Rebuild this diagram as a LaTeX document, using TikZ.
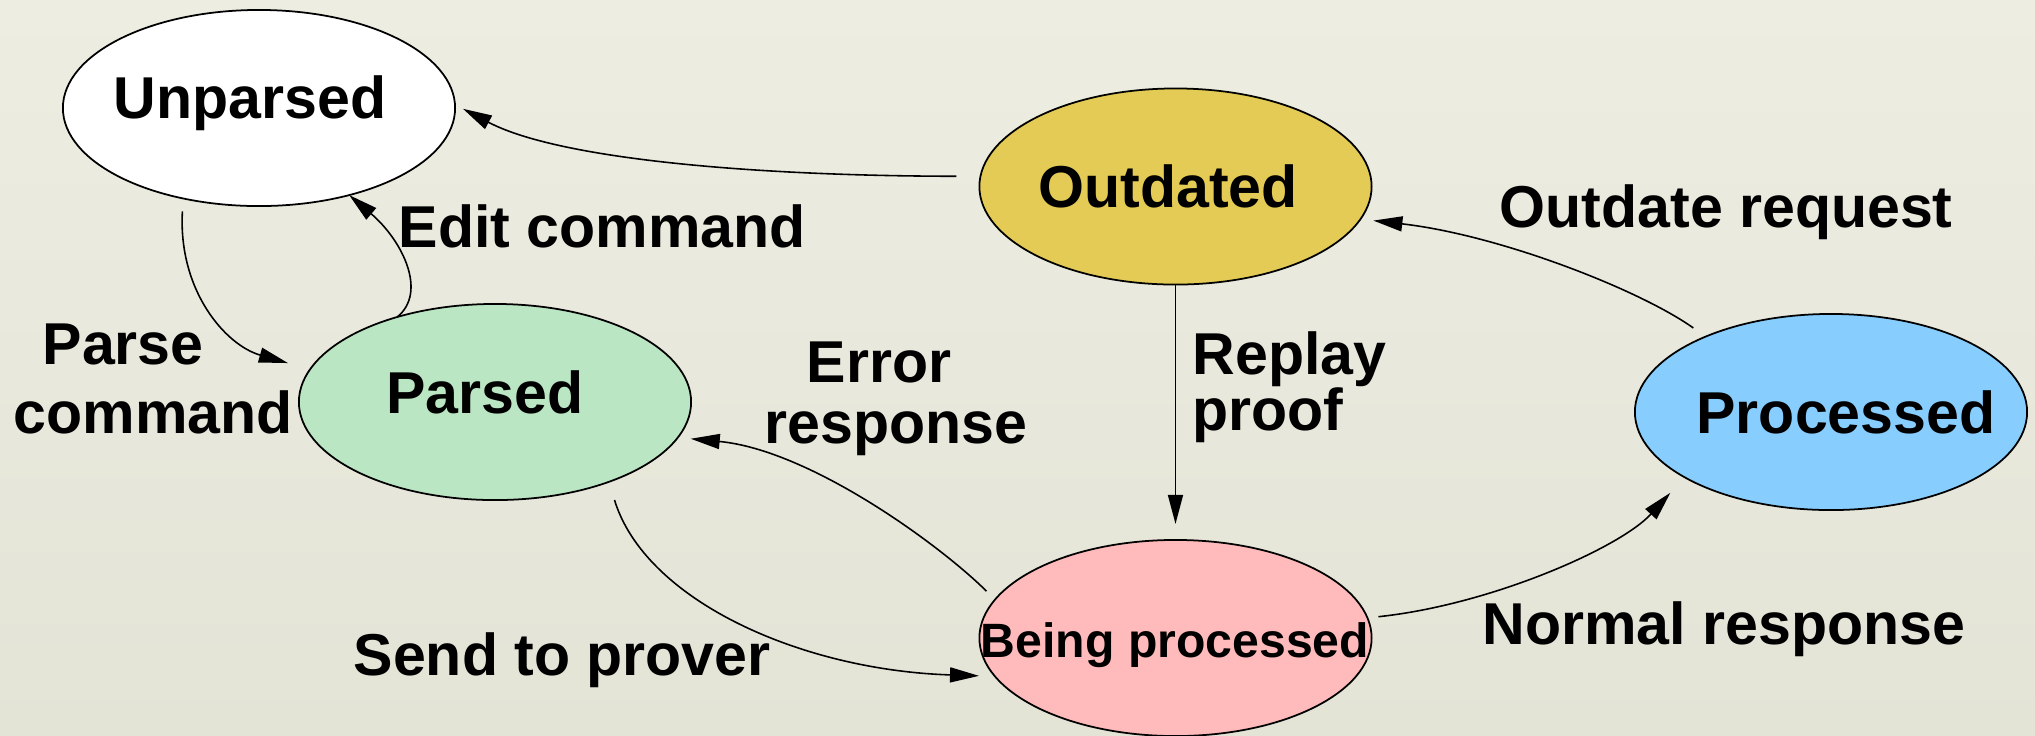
\documentclass[tikz,border=0pt]{standalone}
\usepackage{fontspec}
\setmainfont{Liberation Sans}
\usetikzlibrary{shapes.geometric,arrows.meta}
\definecolor{bgtop}{RGB}{237,237,226}
\definecolor{bgbot}{RGB}{227,227,214}
\definecolor{outdatedfill}{RGB}{227,203,85}
\definecolor{parsedfill}{RGB}{187,230,195}
\definecolor{processedfill}{RGB}{135,206,255}
\definecolor{beingfill}{RGB}{255,187,187}
\begin{document}
\begin{tikzpicture}[x=0.01cm,y=-0.01cm,
  state/.style={ellipse, draw=black, line width=0.5pt, minimum width=3.92cm,
    minimum height=1.96cm, inner sep=0pt, outer sep=0pt},
  statetext/.style={anchor=base, inner sep=0pt,
    font=\fontsize{16.8}{19.6}\selectfont\bfseries},
  edgetext/.style={anchor=base west, inner sep=0pt, align=left},
  conn/.style={draw=black, line width=0.45pt,
    -{Triangle[length=0.29cm,width=0.15cm]}},
]
\useasboundingbox (0,0) rectangle (2035,735);
\shade[top color=bgtop, bottom color=bgbot] (0,0) rectangle (2035,735);

% states
\node[state, fill=white]         (unparsed)  at (259,108)   {};
\node[state, fill=outdatedfill]  (outdated)  at (1175.5,186.5) {};
\node[state, fill=parsedfill]    (parsed)    at (495,402)   {};
\node[state, fill=processedfill] (processed) at (1831,412)  {};
\node[state, fill=beingfill]     (being)     at (1175.5,638) {};

\node[statetext] (unparsed-t)  at (250,118)  {Unparsed};
\node[statetext] (outdated-t)  at (1168,207) {Outdated};
\node[statetext] (parsed-t)    at (485,413)  {Parsed};
\node[statetext] (processed-t) at (1846,433) {Processed};
\node[statetext, font=\fontsize{13.7}{16}\selectfont\bfseries]
  (being-t) at (1175,657) {Being processed};

% transitions
\draw[conn, shorten <=0.24cm, shorten >=0.09cm]
  (outdated.177) .. controls (760,176) and (560,160) .. (unparsed.1.5);
\draw[conn, shorten <=0.13cm, shorten >=0.23cm]
  (unparsed.230) .. controls (178,290) and (225,345) .. (parsed.170.5);
\draw[conn]
  (parsed.139) .. controls (428,292) and (402,240) .. (unparsed.316);
\draw[conn, shorten >=0.16cm] (outdated.south) -- (being.north);
\draw[conn, shorten <=0.12cm, shorten >=0.13cm]
  (being.168.8) .. controls (940,545) and (810,450) .. (parsed.349.8);
\draw[conn, shorten <=0.19cm, shorten >=0.16cm]
  (parsed.325.7) .. controls (645,600) and (800,670) .. (being.192.9);
\draw[conn, shorten <=0.11cm, shorten >=0.21cm]
  (being.6.55) .. controls (1490,605) and (1620,548) .. (processed.204.3);
\draw[conn, shorten <=0.15cm, shorten >=0.13cm]
  (processed.149.4) .. controls (1640,290) and (1500,235) .. (outdated.350.2);

% transition labels (multi-line labels are placed by their last baseline)
\node[edgetext, font=\fontsize{16.8}{19.6}\selectfont\bfseries]
  (edit-l) at (398,247) {Edit command};
\node[edgetext, font=\fontsize{16.8}{19.6}\selectfont\bfseries]
  (parse-l) at (13,433) {\hspace*{0.29cm}Parse\\command};
\node[edgetext, font=\fontsize{16.8}{17.1}\selectfont\bfseries]
  (error-l) at (764,443) {\hspace*{0.42cm}Error\\response};
\node[edgetext, font=\fontsize{16.8}{15.9}\selectfont\bfseries]
  (replay-l) at (1192,430) {Replay\\proof};
\node[edgetext, font=\fontsize{16.8}{19.6}\selectfont\bfseries]
  (outdate-l) at (1499,227) {Outdate request};
\node[edgetext, font=\fontsize{16.8}{19.6}\selectfont\bfseries]
  (normal-l) at (1482,644) {Normal response};
\node[edgetext, font=\fontsize{16.8}{19.6}\selectfont\bfseries]
  (send-l) at (353,675) {Send to prover};
\end{tikzpicture}
\end{document}
